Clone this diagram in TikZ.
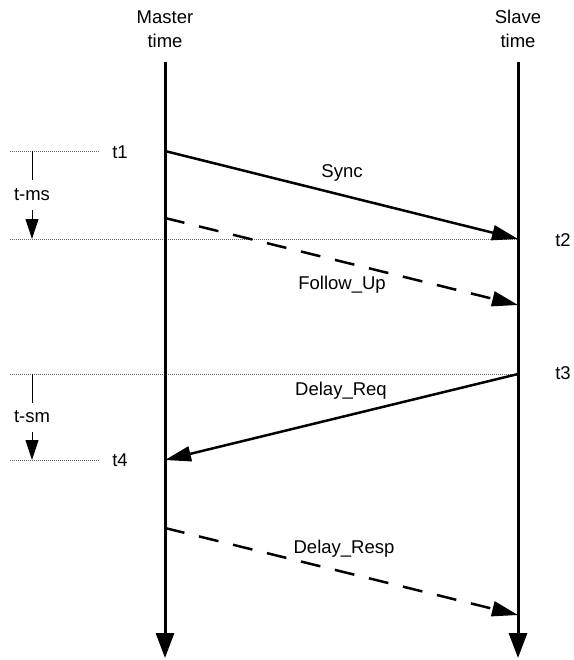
\documentclass[tikz,border=0pt]{standalone}
\usepackage{fontspec}
\setmainfont{Liberation Sans}
\usetikzlibrary{arrows.meta}
\begin{document}
\begin{tikzpicture}[x=1pt,y=-1pt,
  every node/.style={font=\fontsize{18.5}{24}\selectfont, inner sep=1pt},
  timeline/.style={line width=3pt, -{Triangle[length=25pt,width=18pt]}},
  msg/.style={line width=2.5pt, -{Triangle[length=26pt,width=15pt]}},
  msgdash/.style={msg, dash pattern=on 20pt off 15pt},
  guide/.style={line width=0.7pt, black!60, dash pattern=on 1pt off 1pt},
  interval/.style={line width=1pt, -{Triangle[length=20pt,width=13pt]}},
  gaplbl/.style={fill=white, inner sep=0pt, minimum height=29pt},
  lbl/.style={fill=white, inner sep=2pt}]
\useasboundingbox (0,0) rectangle (573,660);
% headings
\node[align=center] (mhead) at (165,29) {Master\\time};
\node[align=center] (shead) at (518,29) {Slave\\time};
% time lines
\coordinate (mtop) at (165,62);
\coordinate (mbot) at (165,658);
\coordinate (stop) at (518,62);
\coordinate (sbot) at (518,658);
% event points
\coordinate (t1m) at (165,151);
\coordinate (t2s) at (518,239);
\coordinate (fum) at (165,218);
\coordinate (fus) at (518,305);
\coordinate (t3s) at (518,374);
\coordinate (t4m) at (165,460);
\coordinate (drm) at (165,528);
\coordinate (drs) at (518,615);
% guide coordinates
\coordinate (g1a) at (10,151);
\coordinate (g1b) at (100,151);
\coordinate (g2a) at (10,239);
\coordinate (g3a) at (10,374);
\coordinate (g4a) at (10,460);
\coordinate (g4b) at (100,460);
\coordinate (i1a) at (32,151);
\coordinate (i1b) at (32,239);
\coordinate (i2a) at (32,374);
\coordinate (i2b) at (32,460);
% guides
\draw[guide] (g1a) -- (g1b);
\draw[guide] (g2a) -- (t2s);
\draw[guide] (g3a) -- (t3s);
\draw[guide] (g4a) -- (g4b);
% intervals
\draw[interval] (i1a) -- node[gaplbl] (tms) {t-ms} (i1b);
\draw[interval] (i2a) -- node[gaplbl] (tsm) {t-sm} (i2b);
% time lines
\draw[timeline] (mtop) -- (mbot);
\draw[timeline] (stop) -- (sbot);
% messages
\draw[msg] (t1m) -- (t2s);
\draw[msgdash] (fum) -- (fus);
\draw[msg] (t3s) -- (t4m);
\draw[msgdash] (drm) -- (drs);
% labels
\node (sync) at (342,173) {Sync};
\node (fu) at (342,285) {Follow\_Up};
\node[lbl] (dreq) at (341,391) {Delay\_Req};
\node[lbl] (dresp) at (344,549) {Delay\_Resp};
\node (t1) at (120,152) {t1};
\node (t2) at (563,240) {t2};
\node (t3) at (563,373) {t3};
\node (t4) at (120,460) {t4};
\end{tikzpicture}
\end{document}
